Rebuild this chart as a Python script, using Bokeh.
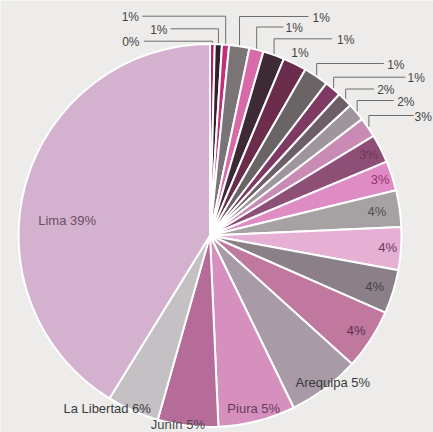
import math
from bokeh.plotting import figure
from bokeh.models import Range1d, ColumnDataSource
from bokeh.core.properties import value
from bokeh.embed import file_html
from bokeh.resources import INLINE

# ---- data (clockwise from 12 o'clock) ----
names = ["", "", "", "", "", "", "", "", "", "", "", "", "", "", "", "", "", "",
         "Arequipa", "Piura", "Junín", "La Libertad", "Lima"]
shares = [0.4, 0.6, 0.6, 1.7, 1.2, 1.8, 2.0, 2.1, 1.4, 1.3, 1.5, 1.7, 2.4, 2.5,
          3.1, 3.6, 3.7, 5.1, 6.1, 6.5, 5.1, 4.4, 41.2]
pct_labels = ["0%", "1%", "1%", "1%", "1%", "1%", "1%", "1%", "1%", "2%", "2%", "3%",
              "3%", "3%", "4%", "4%", "4%", "4%", "5%", "5%", "5%", "6%", "39%"]
colors = ["#b8206c", "#2e2228", "#c0307c", "#7a7476", "#d86aaa", "#3e2a34", "#6c2c4c",
          "#6a6466", "#7e3a62", "#6e5e68", "#9e969c", "#c98ab4", "#8e4f77", "#e08cc4",
          "#a6a2a4", "#e6b0d5", "#8c8088", "#c0789f", "#a89aa6", "#d590bd", "#b56c98",
          "#c4c0c4", "#d4b2cf"]

# ---- layout (pixel coords, top-left origin) ----
W, H = 433, 432
CX, CY, R = 209.5, 235.0, 191.5
BG = "#edecea"
FONT = value("Liberation Sans")

def dy(y):
    return H - y

total = sum(shares)
starts, ends, mids = [], [], []
acc = 0.0
for s in shares:
    a0 = acc / total * 360.0
    acc += s
    a1 = acc / total * 360.0
    starts.append(a0); ends.append(a1); mids.append((a0 + a1) / 2)

def pt(theta, rad):
    t = math.radians(theta)
    return CX + rad * math.sin(t), CY - rad * math.cos(t)

p = figure(width=W, height=H, output_backend="svg", toolbar_location=None,
           x_range=Range1d(0, W), y_range=Range1d(0, H),
           x_axis_type=None, y_axis_type=None, min_border=0)
p.grid.visible = False
p.outline_line_color = None
p.background_fill_color = BG
p.border_fill_color = BG

src = ColumnDataSource(dict(
    start=[math.pi / 2 - math.radians(a) for a in starts],
    end=[math.pi / 2 - math.radians(a) for a in ends],
    color=colors,
))
p.wedge(x=CX, y=dy(CY), radius=R, start_angle="start", end_angle="end",
        direction="clock", fill_color="color", line_color="white",
        line_width=2, source=src)

# ---- leader-line labels ----
# (slice index, level y, line end x, text x, align)
leaders = [
    (0, 40.7, 143.3, 139.0, "right"),
    (1, 28.3, 170.0, 167.0, "right"),
    (2, 15.7, 141.7, 138.5, "right"),
    (3, 16.0, 308.0, 312.0, "left"),
    (4, 26.5, 283.0, 285.0, "left"),
    (5, 38.3, 331.7, 336.5, "left"),
    (7, 63.0, 383.3, 386.7, "left"),
    (8, 76.7, 405.0, 407.0, "left"),
    (9, 88.5, 373.3, 376.7, "left"),
    (10, 100.0, 393.3, 396.7, "left"),
    (11, 115.0, 413.3, 414.0, "left"),
]
lx, ly, tx, ty, tt, ta = [], [], [], [], [], []
for i, lev, lend, txx, al in leaders:
    x0, y0 = pt(mids[i], R + 1)
    lx.append([x0, x0, lend]); ly.append([dy(y0), dy(lev), dy(lev)])
    tx.append(txx); ty.append(dy(lev + 1)); tt.append(pct_labels[i]); ta.append(al)
p.multi_line(xs=lx, ys=ly, line_color="#6e6e6e", line_width=1)
p.text(x=tx, y=ty, text=tt, text_align=ta, text_baseline="middle",
       text_font=FONT, text_font_size="12px", text_color="#454545")

# slice 6: label just outside the rim, no leader
x6, y6 = pt(mids[6], R * 1.06)
p.text(x=[x6], y=[dy(y6)], text=[pct_labels[6]], text_align="center",
       text_baseline="middle", text_font=FONT, text_font_size="12px",
       text_color="#454545")

# ---- inside labels ----
# (slice index, radius fraction, angle offset, color)
inside = [
    (12, 0.93, 0, "#6e3558"),
    (13, 0.935, 0, "#9b2c6e"),
    (14, 0.88, 0, "#555055"),
    (15, 0.93, 0, "#6a3a5a"),
    (16, 0.90, 0, "#4a4046"),
    (17, 0.91, 0, "#5e2e4e"),
    (18, 1.0, -3, "#3a3a3a"),
    (19, 0.93, 0, "#6a3a5e"),
    (20, 1.0, 3, "#4a4a4a"),
    (21, 1.05, 7, "#3a3a3a"),
    (22, 0.75, -10, "#6a4e68"),
]
ix, iy, itx, icol = [], [], [], []
for i, rf, off, col in inside:
    x, y = pt(mids[i] + off, R * rf)
    ix.append(x); iy.append(dy(y))
    itx.append((names[i] + " " + pct_labels[i]) if names[i] else pct_labels[i])
    icol.append(col)
p.text(x=ix, y=iy, text=itx, text_align="center", text_baseline="middle",
       text_font=FONT, text_font_size="13px", text_color=icol)

html = file_html(p, INLINE)
html = html.replace("<body>", '<body style="background:%s">' % BG, 1)
open("out.html", "w").write(html)
